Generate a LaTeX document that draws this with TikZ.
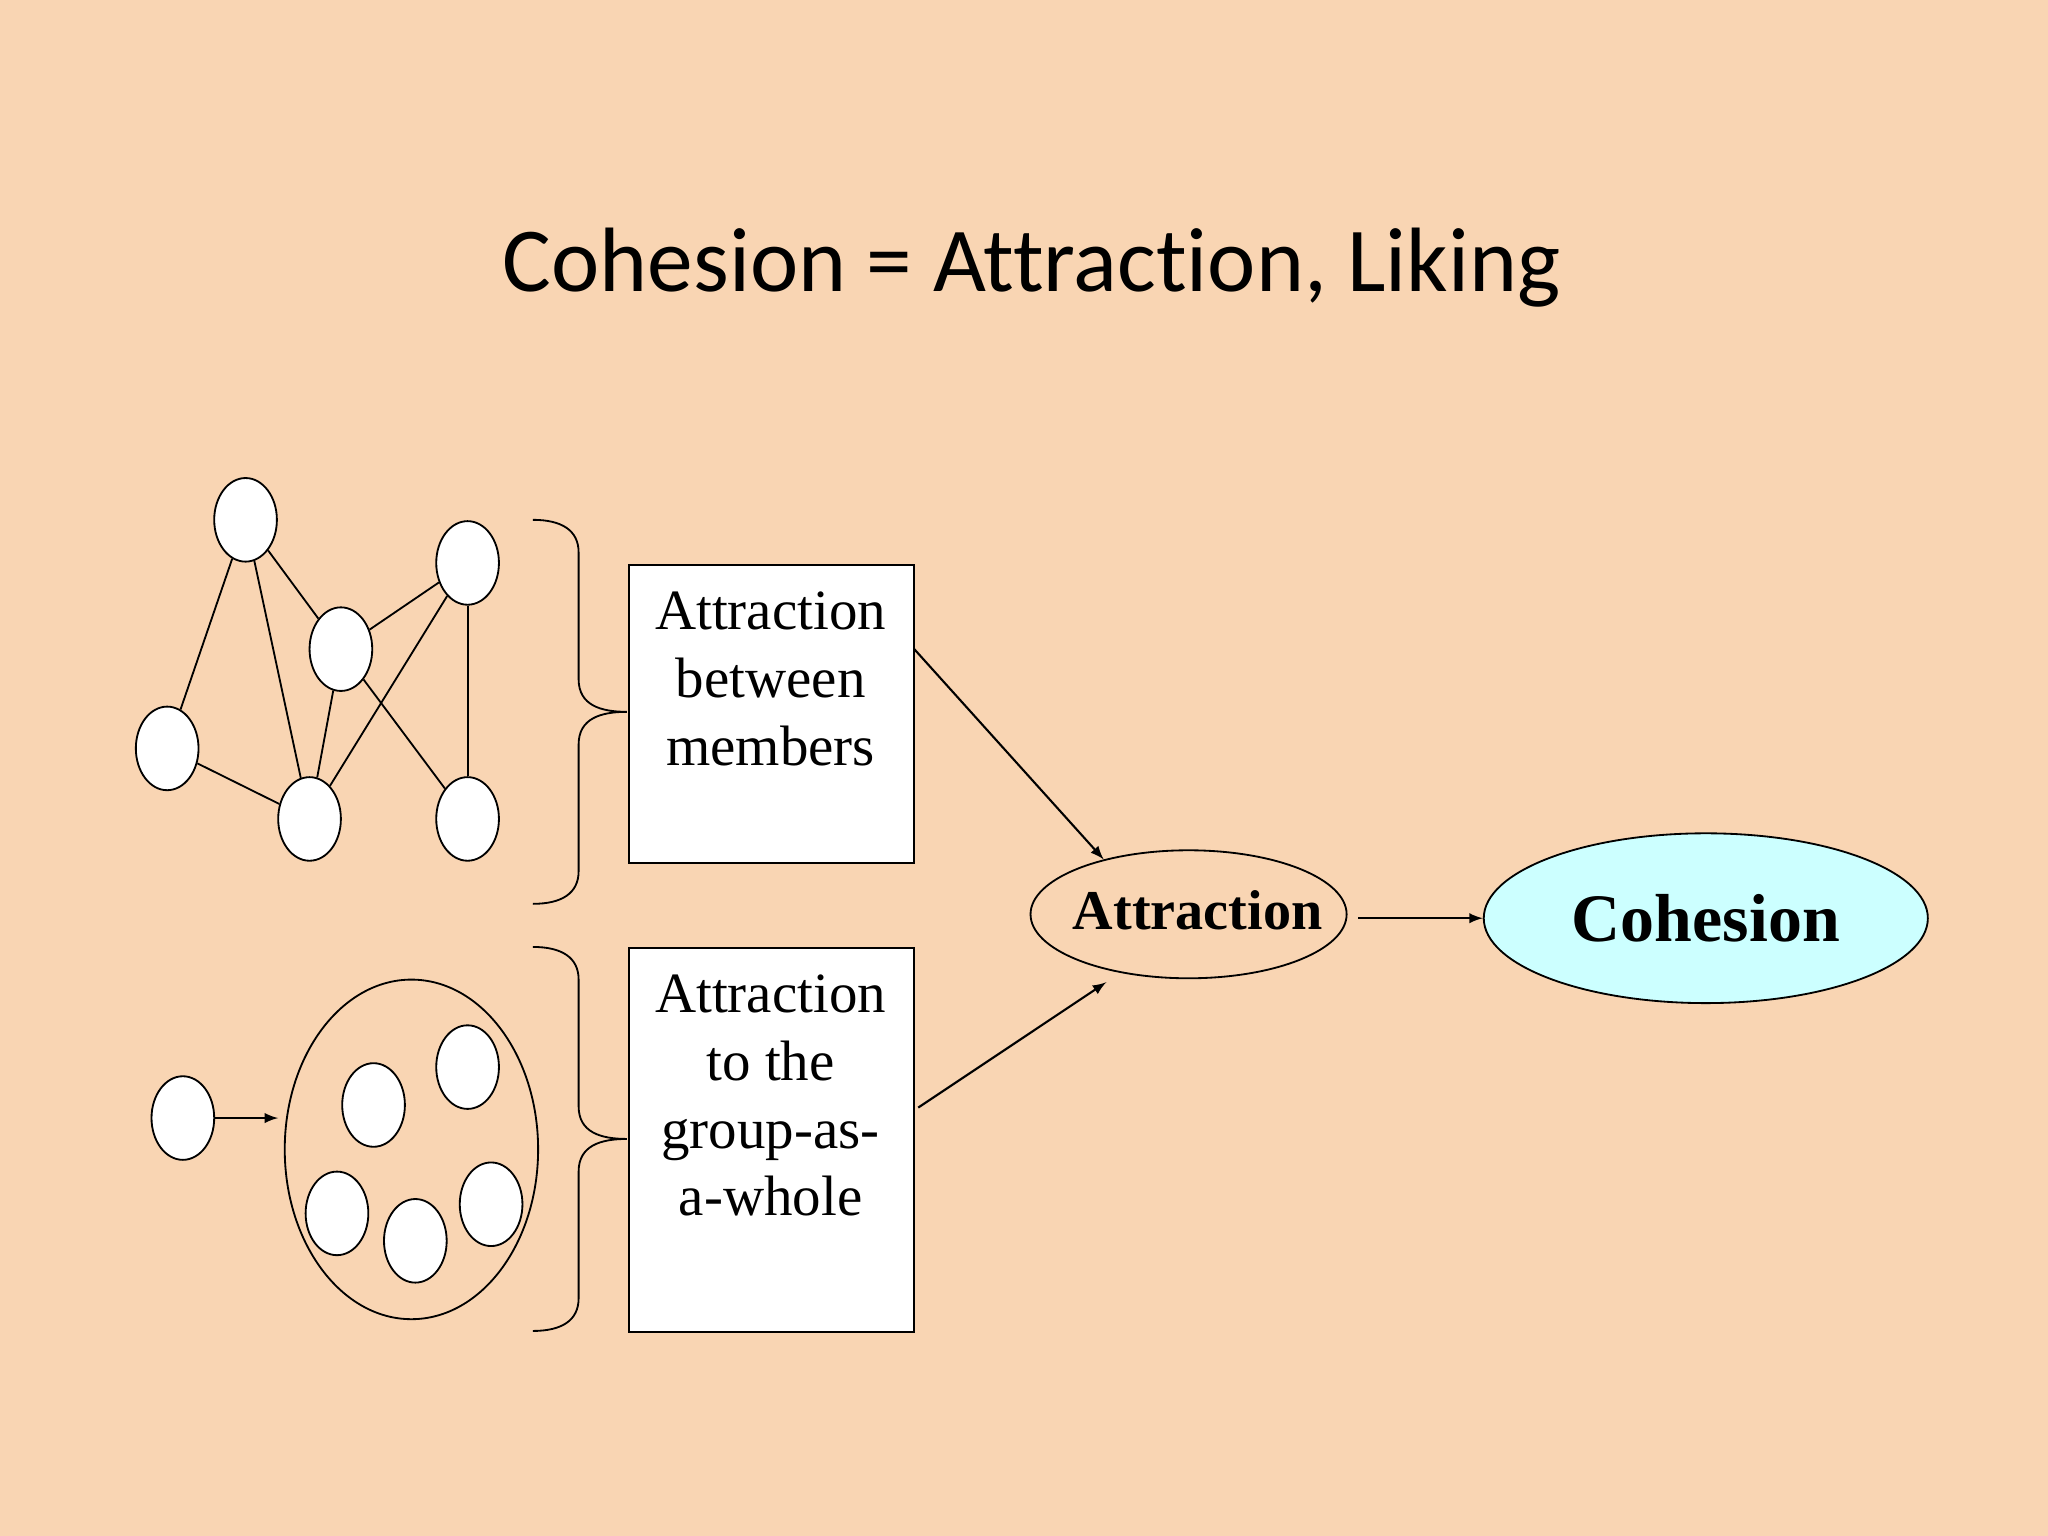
\documentclass[tikz,border=0pt]{standalone}
\usepackage{fontspec}
\setmainfont{Liberation Serif}
\newfontfamily\titlefont[Ligatures=NoCommon]{Carlito}
\definecolor{bg}{HTML}{F9D5B3}
\definecolor{cyanfill}{HTML}{CCFFFF}
\usetikzlibrary{shapes.geometric}
\begin{document}
\begin{tikzpicture}[x={(0.5pt,0)},y={(0,-0.5pt)},
  member/.style={draw,ellipse,fill=white,minimum width=24pt,minimum height=32pt,inner sep=0pt,line width=0.7pt},
  boxtext/.style={draw,fill=white,anchor=north west,minimum width=109pt,minimum height=#1,inner sep=0pt,line width=0.7pt},
  arr/.style={-latex,line width=0.8pt},
  ln/.style={line width=0.7pt}]
\fill[bg] (0,0) rectangle (1568,1176);
\node[font=\titlefont\fontsize{35}{40}\selectfont] (title) at (790,205) {Cohesion = Attraction, Liking};
% network
\node[member] (a) at (188,398) {};
\node[member] (b) at (358,431) {};
\node[member] (c) at (261,497) {};
\node[member] (d) at (128,573) {};
\node[member] (e) at (237,627) {};
\node[member] (f) at (358,627) {};
\foreach \u/\v in {a/c,a/d,a/e,c/b,c/e,c/f,b/e,b/f,d/e} \draw[ln] (\u)--(\v);
% group
\node[draw,ellipse,minimum width=97pt,minimum height=130pt,inner sep=0pt,line width=0.7pt] (grp) at (315,880) {};
\node[member] (g1) at (358,817) {};
\node[member] (g2) at (286,846) {};
\node[member] (g3) at (258,929) {};
\node[member] (g4) at (318,950) {};
\node[member] (g5) at (376,922) {};
\node[member] (out) at (140,856) {};
\coordinate (grpin) at (213,856);
\draw[arr] (out)--(grpin);
% braces
\foreach \t/\m/\b in {398/545/692,725/872/1019}{
 \draw[ln] (408,\t) .. controls (430,\t) and (443,\t+8) .. (443,\t+25) -- (443,\m-25) .. controls (443,\m-5) and (460,\m) .. (480,\m)
   .. controls (460,\m) and (443,\m+5) .. (443,\m+25) -- (443,\b-25) .. controls (443,\b-8) and (430,\b) .. (408,\b);
}
% boxes
\node[boxtext=114pt] (box1) at (481,432) {};
\node[boxtext=147pt] (box2) at (481,725) {};
\node[anchor=north,align=center,font=\fontsize{21.8}{26}\selectfont] (t1) at (590,446) {Attraction\\between\\members};
\node[anchor=north,align=center,font=\fontsize{21.8}{26}\selectfont] (t2) at (590,739) {Attraction\\to the\\group-as-\\a-whole};
% ellipses
\draw[line width=0.7pt] (910,700) ellipse [x radius=121, y radius=49];
\node[font=\bfseries\fontsize{21.5}{24}\selectfont] (attr) at (917,697) {Attraction};
\node[draw,ellipse,fill=cyanfill,minimum width=170pt,minimum height=65pt,inner sep=0pt,line width=0.7pt,font=\bfseries\fontsize{26}{30}\selectfont] (coh) at (1306,703) {Cohesion};
\coordinate (s1) at (700,497); \coordinate (e1) at (845,658);
\coordinate (s2) at (703,848); \coordinate (e2) at (847,752);
\coordinate (s3) at (1040,703);
\draw[arr] (s1)--(e1);
\draw[arr] (s2)--(e2);
\draw[arr] (s3)--(coh.west);
\end{tikzpicture}
\end{document}
